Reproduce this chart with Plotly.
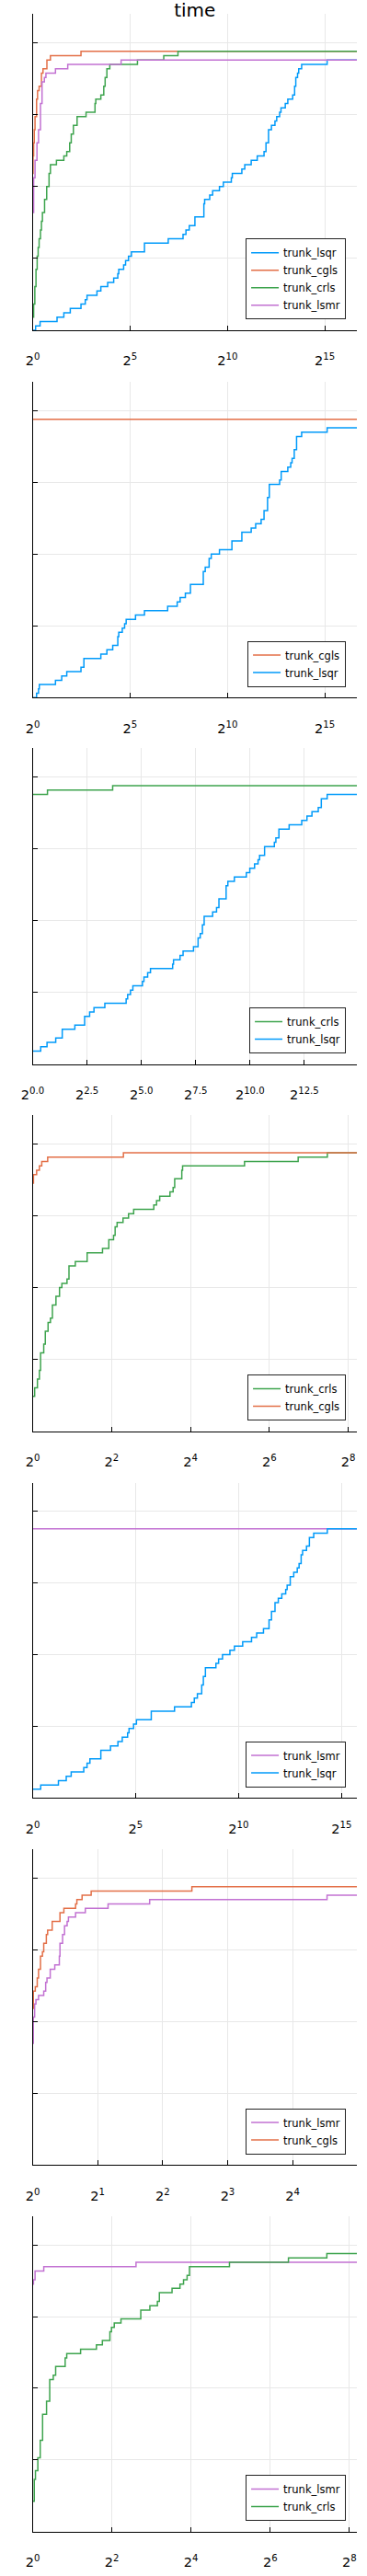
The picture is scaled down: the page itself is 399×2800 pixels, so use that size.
import plotly.graph_objects as go

# ---------------- data ----------------
N_PROBLEMS = 66
TITLE = "time"
COLORS = {"trunk_lsqr": "#009AFA", "trunk_cgls": "#E36F47",
          "trunk_crls": "#3EA44E", "trunk_lsmr": "#C271D2"}

# x values are log2(performance ratio); n values are number of problems solved

# Panel 1: all four solvers
p1_lsqr_x = [0, 0.15, 0.38, 1.25, 1.60, 1.93, 2.48, 2.70, 2.79, 3.30, 3.50, 3.85, 4.16, 4.37, 4.42, 4.67, 4.77, 4.92,
             5.07, 5.74, 6.96, 7.72, 7.87, 8.04, 8.33, 8.79, 8.83, 9.09, 9.24, 9.59, 9.79, 10.20, 10.25, 10.74, 10.89,
             11.22, 11.53, 11.88, 11.98, 12.11, 12.26, 12.44, 12.53, 12.68, 12.75, 12.97, 13.10, 13.35, 13.45, 13.51,
             13.60, 13.66, 13.81, 15.12, 16.65]
p1_lsqr_n = [0, 1, 2, 3, 4, 5, 6, 7, 8, 9, 10, 11, 12, 13, 14, 15, 16, 17, 18, 20, 21, 22, 23, 24, 26, 29, 30, 31, 32,
             33, 34, 35, 36, 37, 38, 39, 40, 41, 43, 46, 47, 48, 49, 50, 51, 52, 53, 54, 56, 58, 59, 60, 61, 62, 62]
p1_cgls_x = [0, 0.02, 0.05, 0.08, 0.12, 0.20, 0.25, 0.33, 0.45, 0.53, 0.73, 0.91, 2.48, 16.65]
p1_cgls_n = [36, 40, 43, 46, 49, 53, 55, 56, 59, 60, 62, 63, 64, 64]
p1_crls_x = [0, 0.05, 0.11, 0.17, 0.23, 0.28, 0.33, 0.40, 0.45, 0.50, 0.61, 0.72, 0.84, 0.91, 1.22, 1.60, 1.75, 1.90,
             1.98, 2.09, 2.28, 2.74, 3.20, 3.24, 3.50, 3.65, 3.72, 3.81, 3.96, 5.38, 6.73, 7.46, 16.65]
p1_crls_n = [3, 6, 10, 14, 17, 19, 21, 23, 25, 27, 30, 33, 36, 38, 39, 40, 41, 43, 45, 47, 49, 50, 52, 53, 54, 56, 58,
             60, 61, 62, 63, 64, 64]
p1_lsmr_x = [0, 0.05, 0.12, 0.22, 0.30, 0.40, 0.48, 0.60, 0.68, 1.17, 1.80, 4.54, 16.65]
p1_lsmr_n = [27, 35, 39, 43, 46, 52, 57, 58, 59, 60, 61, 62, 62]

# Panel 2: cgls vs lsqr
p2_cgls_x = [0, 16.65]
p2_cgls_n = [64, 64]
p2_lsqr_x = [0, 0.20, 0.30, 0.34, 1.17, 1.49, 1.75, 2.48, 2.63, 3.50, 3.81, 4.11, 4.37, 4.42, 4.60, 4.72, 4.80, 5.28,
             5.74, 6.93, 7.42, 7.57, 7.84, 8.10, 8.76, 8.86, 9.06, 9.17, 9.59, 10.23, 10.74, 11.22, 11.45, 11.73, 11.88,
             12.06, 12.15, 12.68, 12.76, 13.10, 13.25, 13.32, 13.43, 13.55, 13.81, 15.12, 16.65]
p2_lsqr_n = [0, 1, 2, 3, 4, 5, 6, 7, 9, 10, 11, 12, 14, 15, 16, 17, 18, 19, 20, 21, 22, 23, 24, 26, 29, 30, 32, 33, 34,
             36, 38, 39, 40, 41, 43, 46, 49, 50, 52, 53, 54, 55, 57, 60, 61, 62, 62]

# Panel 3: crls vs lsqr
p3_crls_x = [0, 0.68, 3.68, 14.92]
p3_crls_n = [62, 63, 64, 64]
p3_lsqr_x = [0, 0.37, 0.66, 1.06, 1.36, 1.94, 2.39, 2.62, 2.82, 3.32, 4.30, 4.37, 4.50, 4.61, 5.05, 5.12, 5.29, 5.42,
             6.44, 6.48, 6.78, 6.92, 7.40, 7.61, 7.71, 7.81, 7.89, 8.28, 8.46, 8.57, 8.90, 8.98, 9.28, 9.83, 9.99, 10.21,
             10.37, 10.44, 10.67, 11.12, 11.19, 11.33, 11.80, 12.38, 12.62, 12.85, 13.14, 13.28, 13.55, 14.92]
p3_lsqr_n = [3, 4, 5, 6, 8, 9, 11, 12, 13, 14, 15, 16, 17, 18, 19, 20, 21, 22, 23, 24, 25, 26, 27, 29, 30, 32, 34, 35,
             36, 38, 41, 42, 43, 44, 45, 46, 47, 48, 50, 51, 52, 54, 55, 56, 57, 58, 59, 61, 62, 62]

# Panel 4: crls vs cgls
p4_crls_x = [0, 0.05, 0.12, 0.17, 0.20, 0.28, 0.32, 0.39, 0.45, 0.50, 0.59, 0.68, 0.74, 0.87, 0.92, 1.08, 1.38, 1.77,
             1.93, 2.05, 2.09, 2.14, 2.29, 2.43, 2.56, 3.07, 3.14, 3.22, 3.48, 3.56, 3.60, 3.78, 3.80, 5.37, 6.73, 7.47,
             8.22]
p4_crls_n = [8, 10, 12, 14, 18, 20, 23, 25, 26, 29, 31, 33, 34, 35, 38, 39, 41, 42, 44, 45, 47, 48, 49, 50, 51, 52, 53,
             54, 55, 56, 58, 60, 61, 62, 63, 64, 64]
p4_cgls_x = [0, 0.02, 0.10, 0.17, 0.23, 0.38, 2.30, 8.22]
p4_cgls_n = [57, 59, 60, 61, 62, 63, 64, 64]

# Panel 5: lsmr vs lsqr
p5_lsmr_x = [0, 15.75]
p5_lsmr_n = [62, 62]
p5_lsqr_x = [0, 0.39, 1.25, 1.63, 1.87, 2.48, 2.64, 2.78, 3.31, 3.78, 4.14, 4.35, 4.61, 4.68, 4.90, 5.04, 5.76, 6.89,
             7.71, 7.85, 8.00, 8.21, 8.29, 8.39, 8.90, 9.03, 9.22, 9.58, 9.80, 10.20, 10.63, 10.88, 11.21, 11.48, 11.60,
             11.77, 11.93, 12.10, 12.29, 12.36, 12.51, 12.68, 12.85, 12.94, 13.04, 13.11, 13.30, 13.44, 13.65, 14.31,
             15.75]
p5_lsqr_n = [2, 3, 4, 5, 6, 7, 8, 9, 11, 12, 13, 14, 15, 16, 17, 18, 20, 21, 22, 23, 24, 26, 28, 30, 31, 32, 33, 34, 35,
             36, 37, 38, 39, 41, 43, 45, 46, 47, 48, 49, 51, 52, 53, 54, 56, 57, 58, 60, 61, 62, 62]

# Panel 6: lsmr vs cgls
p6_lsmr_x = [0, 0.01, 0.03, 0.05, 0.09, 0.17, 0.20, 0.22, 0.27, 0.34, 0.41, 0.42, 0.46, 0.49, 0.53, 0.55, 0.66, 0.81,
             1.16, 1.80, 4.53, 4.99]
p6_lsmr_n = [28, 34, 37, 38, 39, 40, 42, 43, 45, 46, 48, 51, 53, 55, 56, 57, 58, 59, 60, 61, 62, 62]
p6_cgls_x = [0, 0.01, 0.04, 0.07, 0.09, 0.12, 0.15, 0.17, 0.21, 0.23, 0.30, 0.42, 0.48, 0.66, 0.68, 0.76, 0.90, 2.45,
             4.99]
p6_cgls_n = [36, 40, 41, 43, 45, 48, 49, 51, 53, 54, 56, 58, 59, 60, 61, 62, 63, 64, 64]

# Panel 7: lsmr vs crls
p7_lsmr_x = [0, 0.02, 0.06, 0.28, 2.61, 8.19]
p7_lsmr_n = [57, 58, 60, 61, 62, 62]
p7_crls_x = [0, 0.04, 0.07, 0.13, 0.19, 0.25, 0.35, 0.43, 0.52, 0.58, 0.82, 0.86, 1.21, 1.61, 1.76, 1.95, 1.99, 2.06,
             2.23, 2.73, 2.96, 3.15, 3.20, 3.52, 3.72, 3.81, 3.90, 3.96, 4.97, 6.46, 7.43, 8.19]
p7_crls_n = [7, 12, 14, 17, 21, 27, 30, 35, 36, 38, 40, 41, 42, 43, 44, 46, 47, 48, 49, 51, 52, 53, 55, 56, 57, 58, 59,
             61, 62, 63, 64, 64]

# x tick positions (log2) and labels per panel
ticks_5 = [0, 5, 10, 15]
labels_5 = ["2<sup>0</sup>", "2<sup>5</sup>", "2<sup>10</sup>", "2<sup>15</sup>"]
ticks_25 = [0, 2.5, 5, 7.5, 10, 12.5]
labels_25 = ["2<sup>0.0</sup>", "2<sup>2.5</sup>", "2<sup>5.0</sup>", "2<sup>7.5</sup>", "2<sup>10.0</sup>",
             "2<sup>12.5</sup>"]
ticks_2 = [0, 2, 4, 6, 8]
labels_2 = ["2<sup>0</sup>", "2<sup>2</sup>", "2<sup>4</sup>", "2<sup>6</sup>", "2<sup>8</sup>"]
ticks_1 = [0, 1, 2, 3, 4]
labels_1 = ["2<sup>0</sup>", "2<sup>1</sup>", "2<sup>2</sup>", "2<sup>3</sup>", "2<sup>4</sup>"]
y_ticks = [0, 0.25, 0.5, 0.75, 1.0]

panels = [
    ([("trunk_lsqr", p1_lsqr_x, p1_lsqr_n), ("trunk_cgls", p1_cgls_x, p1_cgls_n),
      ("trunk_crls", p1_crls_x, p1_crls_n), ("trunk_lsmr", p1_lsmr_x, p1_lsmr_n)], ticks_5, labels_5, 16.65),
    ([("trunk_cgls", p2_cgls_x, p2_cgls_n), ("trunk_lsqr", p2_lsqr_x, p2_lsqr_n)], ticks_5, labels_5, 16.65),
    ([("trunk_crls", p3_crls_x, p3_crls_n), ("trunk_lsqr", p3_lsqr_x, p3_lsqr_n)], ticks_25, labels_25, 14.92),
    ([("trunk_crls", p4_crls_x, p4_crls_n), ("trunk_cgls", p4_cgls_x, p4_cgls_n)], ticks_2, labels_2, 8.22),
    ([("trunk_lsmr", p5_lsmr_x, p5_lsmr_n), ("trunk_lsqr", p5_lsqr_x, p5_lsqr_n)], ticks_5, labels_5, 15.75),
    ([("trunk_lsmr", p6_lsmr_x, p6_lsmr_n), ("trunk_cgls", p6_cgls_x, p6_cgls_n)], ticks_1, labels_1, 4.99),
    ([("trunk_lsmr", p7_lsmr_x, p7_lsmr_n), ("trunk_crls", p7_crls_x, p7_crls_n)], ticks_2, labels_2, 8.19),
]

# ---------------- layout geometry (pixels) ----------------
W, H = 399, 2800
PLOT_LEFT, PLOT_RIGHT = 23.3, 387.7
PANEL_TOP = [15, 415, 813.3, 1212.3, 1611.7, 2010, 2409]
PANEL_BOTTOM = [359, 758.3, 1156.7, 1555.7, 1954.3, 2353.3, 2751.7]
LEGEND_RIGHT = 375.3
LEGEND_GAP = 11.7

FONT = "DejaVu Sans"
fig = go.Figure()
layout = dict(
    width=W, height=H, margin=dict(l=0, r=0, t=0, b=0),
    paper_bgcolor="white", plot_bgcolor="white", showlegend=True,
    font=dict(family=FONT, color="black"),
    title=dict(text=TITLE, font=dict(family=FONT, size=20, color="black"),
               x=(PLOT_LEFT + PLOT_RIGHT) / 2 / W, xref="paper", xanchor="center",
               y=1 - 11 / H, yref="container", yanchor="middle"),
)

for i, (series, tv, tt, xmax) in enumerate(panels):
    k = i + 1
    sfx = "" if k == 1 else str(k)
    leg = "legend" if k == 1 else f"legend{k}"
    for name, xs, ns in series:
        fig.add_trace(go.Scatter(
            x=xs, y=[n / N_PROBLEMS for n in ns], mode="lines", name=name,
            line=dict(color=COLORS[name], width=1.5, shape="hv"),
            xaxis=f"x{sfx}", yaxis=f"y{sfx}", legend=leg, hoverinfo="skip"))
    ydom = [1 - PANEL_BOTTOM[i] / H, 1 - PANEL_TOP[i] / H]
    layout[f"xaxis{sfx}"] = dict(
        domain=[PLOT_LEFT / W, PLOT_RIGHT / W], range=[0, xmax], anchor=f"y{sfx}",
        tickmode="array", tickvals=tv, ticktext=tt,
        ticks="inside", ticklen=5, tickwidth=1, tickcolor="black",
        showline=True, linecolor="black", linewidth=1,
        showgrid=True, gridcolor="#e8e8e8", gridwidth=1, zeroline=False,
        tickfont=dict(family=FONT, size=14.5, color="black"),
        ticklabelstandoff=20, fixedrange=True)
    layout[f"yaxis{sfx}"] = dict(
        domain=ydom, range=[0, 1.1], anchor=f"x{sfx}",
        tickmode="array", tickvals=y_ticks, showticklabels=False,
        ticks="inside", ticklen=5, tickwidth=1, tickcolor="black",
        showline=True, linecolor="black", linewidth=1,
        showgrid=True, gridcolor="#e8e8e8", gridwidth=1, zeroline=False, fixedrange=True)
    layout[leg] = dict(
        x=LEGEND_RIGHT / W, xanchor="right", xref="paper",
        y=1 - (PANEL_BOTTOM[i] - LEGEND_GAP) / H, yanchor="bottom", yref="paper",
        bgcolor="white", bordercolor="#222222", borderwidth=1,
        font=dict(family=FONT, size=11.5, color="black"),
        tracegroupgap=0, itemwidth=30)

fig.update_layout(**layout)
fig.write_html("out.html", config={"displayModeBar": False},
               post_script="document.body.style.margin='0';")
